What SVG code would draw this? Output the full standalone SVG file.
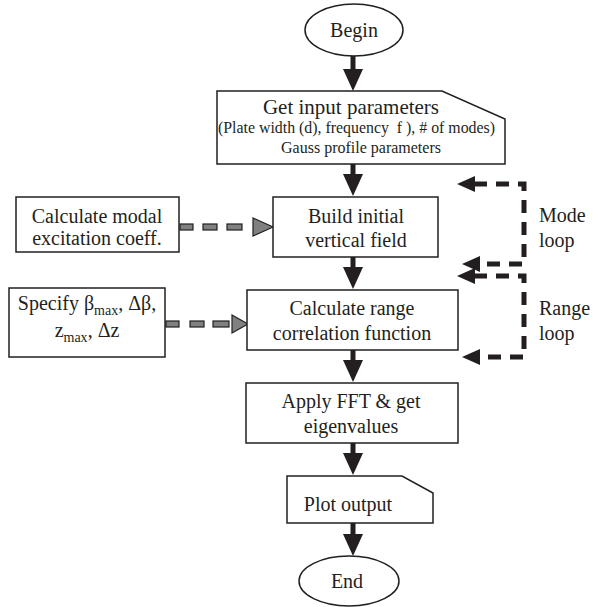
<svg xmlns="http://www.w3.org/2000/svg" width="596" height="607" viewBox="0 0 596 607">
<defs>
<style>
.box{fill:#fff;stroke:#231f20;stroke-width:1.5}
.t{font-family:"Liberation Serif","Times New Roman",serif;font-size:20px;fill:#231f20;text-anchor:middle}
.l{font-family:"Liberation Serif","Times New Roman",serif;font-size:20px;fill:#231f20;text-anchor:start}
.s{font-family:"Liberation Serif","Times New Roman",serif;font-size:16px;fill:#231f20}
.sub{font-size:14px}
.main{stroke:#231f20;stroke-width:5;fill:none}
.loop{stroke:#231f20;stroke-width:5;fill:none;stroke-dasharray:13 9}
.gd{fill:#808080;stroke:#231f20;stroke-width:1.2}
.ah{fill:#231f20}
</style>
<marker id="arr" viewBox="0 0 22 20" refX="12" refY="10" markerWidth="22" markerHeight="20" markerUnits="userSpaceOnUse" orient="auto">
<path d="M0,0 L22,10 L0,20 Z" fill="#231f20"/>
</marker>
</defs>

<g id="connectors">
<line class="main" x1="353" y1="56" x2="353" y2="81" marker-end="url(#arr)"/>
<line class="main" x1="353" y1="164" x2="353" y2="186" marker-end="url(#arr)"/>
<line class="main" x1="353" y1="257" x2="353" y2="279" marker-end="url(#arr)"/>
<line class="main" x1="353" y1="350" x2="353" y2="372" marker-end="url(#arr)"/>
<line class="main" x1="353" y1="443" x2="353" y2="465" marker-end="url(#arr)"/>
<line class="main" x1="353" y1="523" x2="353" y2="546" marker-end="url(#arr)"/>

<g id="modal-dash">
<rect class="gd" x="180" y="224" width="13" height="6"/>
<rect class="gd" x="203" y="224" width="14" height="6"/>
<rect class="gd" x="227" y="224" width="15" height="6"/>
<polygon class="gd" points="253,218 273,227 253,236"/>
</g>
<g id="specify-dash">
<rect class="gd" x="166" y="321" width="13" height="6"/>
<rect class="gd" x="190" y="321" width="14" height="6"/>
<rect class="gd" x="213" y="321" width="16" height="6"/>
<polygon class="gd" points="232,315 248,324 232,333"/>
</g>

<g id="mode-loop">
<path class="loop" d="M474,184 H524 V264 H479"/>
<polygon class="ah" points="457,184 475,176 475,192"/>
<polygon class="ah" points="462,264 480,256 480,272"/>
</g>
<g id="range-loop">
<path class="loop" d="M474,276 H524 V357 H479"/>
<polygon class="ah" points="457,276 475,268 475,284"/>
<polygon class="ah" points="462,357 480,349 480,365"/>
</g>
</g>

<g id="begin">
<ellipse class="box" cx="354" cy="30" rx="49" ry="26"/>
<text class="t" x="354" y="37">Begin</text>
</g>

<g id="get-input">
<polygon class="box" points="217,91 442,91 505,119 505,164 217,164"/>
<text class="t" x="351" y="114" style="font-size:21px">Get input parameters</text>
<text class="s" x="218" y="133" textLength="277" lengthAdjust="spacingAndGlyphs" xml:space="preserve">(Plate width (d), frequency  f ), # of modes)</text>
<text class="s" x="361" y="153" text-anchor="middle">Gauss profile parameters</text>
</g>

<g id="build">
<rect class="box" x="273" y="197" width="165" height="60"/>
<text class="t" x="356" y="223">Build initial</text>
<text class="t" x="356" y="247">vertical field</text>
</g>

<g id="calc-range">
<rect class="box" x="247" y="290" width="211" height="60"/>
<text class="t" x="352" y="315">Calculate range</text>
<text class="t" x="352" y="340">correlation function</text>
</g>

<g id="fft">
<rect class="box" x="246" y="383" width="212" height="60"/>
<text class="t" x="351" y="408">Apply FFT &amp; get</text>
<text class="t" x="351" y="433">eigenvalues</text>
</g>

<g id="plot">
<polygon class="box" points="287,476 402,476 433,493 433,523 287,523"/>
<text class="t" x="348" y="511">Plot output</text>
</g>

<g id="end">
<ellipse class="box" cx="349" cy="581" rx="50" ry="25"/>
<text class="t" x="347" y="588">End</text>
</g>

<g id="modal">
<rect class="box" x="16" y="197" width="163" height="55"/>
<text class="t" x="97" y="223">Calculate modal</text>
<text class="t" x="97" y="245">excitation coeff.</text>
</g>

<g id="specify">
<rect class="box" x="9" y="288" width="156" height="69"/>
<text class="t" x="87" y="310">Specify β<tspan class="sub" dy="5">max</tspan><tspan dy="-5">, Δβ,</tspan></text>
<text class="t" x="87" y="337">z<tspan class="sub" dy="5">max</tspan><tspan dy="-5">, Δz</tspan></text>
</g>

<g id="labels">
<text class="l" x="539" y="222">Mode</text>
<text class="l" x="539" y="247">loop</text>
<text class="l" x="539" y="315">Range</text>
<text class="l" x="539" y="340">loop</text>
</g>
</svg>
